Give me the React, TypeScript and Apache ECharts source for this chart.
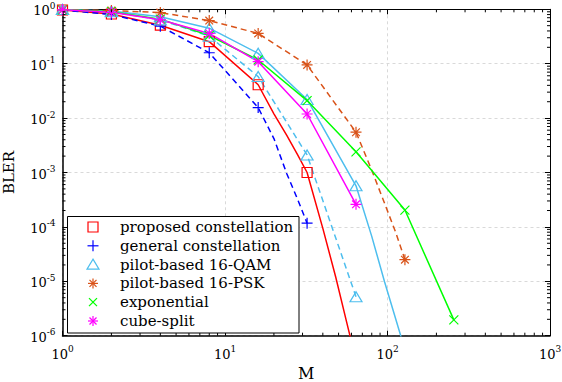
import React, { useEffect, useRef } from 'react';
import * as echarts from 'echarts';

const FONT = 'DejaVu Serif';

// ---- data (M, BLER) ----
const proposedM = [1, 2, 4, 8, 16, 20, 24, 28, 32, 40, 48, 56, 64];
const proposedBLER = [0.97, 0.82, 0.51, 0.254, 0.041, 0.012, 0.0048, 0.0021, 0.001, 9.4e-5, 1.2e-5, 1.8e-6, 3.5e-7];

const generalM = [1, 2, 4, 8, 16, 20, 24, 28, 32];
const generalBLER = [0.97, 0.8, 0.49, 0.159, 0.0156, 4.2e-3, 9.5e-4, 3.2e-4, 1.17e-4];

const qamM = [1, 2, 4, 8, 16, 32, 64, 80, 96, 112, 128];
const qamBLER = [0.99, 0.93, 0.73, 0.45, 0.155, 0.022, 5.7e-4, 6.7e-5, 9.7e-6, 2.1e-6, 5.5e-7];

const qamDashM = [1, 2, 4, 8, 16, 32, 64];
const qamDashBLER = [0.99, 0.9, 0.64, 0.32, 0.058, 2.1e-3, 5.2e-6];

const pskM = [1, 2, 4, 8, 16, 32, 64, 80, 96, 112, 128];
const pskBLER = [0.98, 0.95, 0.87, 0.62, 0.36, 0.095, 5.5e-3, 1.1e-3, 2.7e-4, 8.1e-5, 2.5e-5];

const expM = [1, 2, 4, 8, 16, 32, 64, 128, 256];
const expBLER = [0.98, 0.9, 0.66, 0.33, 0.117, 0.021, 2.4e-3, 2.04e-4, 1.95e-6];

const cubeM = [1, 2, 4, 8, 16, 32, 64];
const cubeBLER = [0.98, 0.88, 0.64, 0.36, 0.109, 0.0119, 2.6e-4];

const legendNames = [
  'proposed constellation',
  'general constellation',
  'pilot-based 16-QAM',
  'pilot-based 16-PSK',
  'exponential',
  'cube-split',
];

const X_MIN = 1, X_MAX = 1000, Y_MIN = 1e-6, Y_MAX = 1;

// minor tick positions (2..9 times each decade)
const xMinor: number[] = [];
for (let e = 0; e < 3; e++) for (let k = 2; k <= 9; k++) xMinor.push(k * Math.pow(10, e));
const yMinor: number[] = [];
for (let e = -6; e < 0; e++) for (let k = 2; k <= 9; k++) yMinor.push(k * Math.pow(10, e));

const C = {
  red: '#ff0000',
  blue: '#0000ff',
  lblue: '#4DBEEE',
  orange: '#D95319',
  green: '#00ff00',
  magenta: '#ff00ff',
};

const SYM = {
  square: 'path://M0,0 L10,0 L10,10 L0,10 Z',
  plus: 'path://M5,0 L5,10 M0,5 L10,5',
  triangle: 'path://M5,0 L10,9 L0,9 Z',
  star: 'path://M5,0 L5,10 M0,5 L10,5 M1.5,1.5 L8.5,8.5 M1.5,8.5 L8.5,1.5',
  cross: 'path://M0,0 L10,10 M0,10 L10,0',
};

const isPow2 = (m: number) => Number.isInteger(m) && (m & (m - 1)) === 0;

function mkSeries(name: string, M: number[], B: number[], color: string, dashed: boolean, symbol: string, size: number | number[]) {
  return {
    type: 'line',
    name,
    data: M.map((m, i) => (isPow2(m) ? { value: [m, B[i]] } : { value: [m, B[i]], symbol: 'none' })),
    symbol,
    symbolSize: size,
    showSymbol: true,
    showAllSymbol: true,
    lineStyle: { color, width: 1.5, type: dashed ? [6, 4] : 'solid' },
    itemStyle: { color: 'transparent', borderColor: color, borderWidth: 1.2 },
    emphasis: { disabled: true },
    z: 3,
  };
}

const rich = {
  b: { fontFamily: FONT, fontSize: 13, lineHeight: 16, verticalAlign: 'bottom', color: '#000' },
  s: { fontFamily: FONT, fontSize: 9, lineHeight: 12, verticalAlign: 'top', color: '#000' },
};
const expFormatter = (v: number) => {
  const e = Math.round(Math.log10(v));
  return `{b|10}{s|${e}}`;
};

function ln(x1: number, y1: number, x2: number, y2: number, stroke: string, w = 1) {
  return { type: 'line', z: 101, shape: { x1, y1, x2, y2 }, style: { stroke, lineWidth: w } };
}

function legendMarker(kind: string, cx: number, cy: number, color: string) {
  const h = 5;
  switch (kind) {
    case 'square':
      return [{ type: 'rect', z: 101, shape: { x: cx - h, y: cy - h, width: 2 * h, height: 2 * h }, style: { fill: 'none', stroke: color, lineWidth: 1.2 } }];
    case 'plus':
      return [ln(cx, cy - 5.5, cx, cy + 5.5, color, 1.2), ln(cx - 5.5, cy, cx + 5.5, cy, color, 1.2)];
    case 'triangle':
      return [{ type: 'polygon', z: 101, shape: { points: [[cx, cy - 5.5], [cx + 6, cy + 4.5], [cx - 6, cy + 4.5]] }, style: { fill: 'none', stroke: color, lineWidth: 1.2 } }];
    case 'star':
      return [
        ln(cx, cy - 5, cx, cy + 5, color, 1.2),
        ln(cx - 5, cy, cx + 5, cy, color, 1.2),
        ln(cx - 3.5, cy - 3.5, cx + 3.5, cy + 3.5, color, 1.2),
        ln(cx - 3.5, cy + 3.5, cx + 3.5, cy - 3.5, color, 1.2),
      ];
    case 'cross':
    default:
      return [ln(cx - 4, cy - 4, cx + 4, cy + 4, color, 1.2), ln(cx - 4, cy + 4, cx + 4, cy - 4, color, 1.2)];
  }
}

export default function App() {
  const ref = useRef<HTMLDivElement>(null);

  useEffect(() => {
    if (!ref.current) return;
    const chart = echarts.init(ref.current, undefined, { renderer: 'svg' });

    const legendKinds = ['square', 'plus', 'triangle', 'star', 'cross', 'star'];
    const legendColors = [C.red, C.blue, C.lblue, C.orange, C.green, C.magenta];
    const rowY = [227, 245.8, 264.6, 283.4, 302.2, 321];
    const legendChildren: any[] = [
      { type: 'rect', z: 100, shape: { x: 67.5, y: 216.5, width: 231.5, height: 116.5 }, style: { fill: '#fff', stroke: '#000', lineWidth: 1 } },
    ];
    legendNames.forEach((name, i) => {
      legendChildren.push(...legendMarker(legendKinds[i], 93, rowY[i], legendColors[i]));
      legendChildren.push({
        type: 'text',
        z: 101,
        x: 120,
        y: rowY[i],
        style: { text: name, fill: '#000', fontFamily: FONT, fontSize: 15, verticalAlign: 'middle', align: 'left' },
      });
    });

    const axisCommon = {
      type: 'log',
      logBase: 10,
      axisLine: { show: true, onZero: false, lineStyle: { color: '#000', width: 1.5 } },
      axisTick: { show: true, inside: true, length: 5, lineStyle: { color: '#000', width: 1 } },
      minorTick: { show: false },
      minorSplitLine: { show: false },
    };

    const option: any = {
      animation: false,
      backgroundColor: '#fff',
      textStyle: { fontFamily: FONT },
      grid: { left: 62.5, right: 12, top: 9.3, bottom: 46.3, containLabel: false, outerBoundsMode: 'none' },
      xAxis: [
        {
          ...axisCommon,
          min: X_MIN,
          max: X_MAX,
          position: 'bottom',
          name: 'M',
          nameLocation: 'middle',
          nameGap: 25,
          nameTextStyle: { fontFamily: FONT, fontSize: 16, color: '#000' },
          axisLabel: { margin: 9, fontFamily: FONT, formatter: expFormatter, rich },
          splitLine: { show: true, lineStyle: { color: '#d9d9d9', width: 1, type: [3, 3] } },
        },
        {
          ...axisCommon,
          min: X_MIN,
          max: X_MAX,
          position: 'top',
          axisLine: { show: true, onZero: false, lineStyle: { color: '#000', width: 1 } },
          axisLabel: { show: false },
          splitLine: { show: false },
        },
      ],
      yAxis: [
        {
          ...axisCommon,
          min: Y_MIN,
          max: Y_MAX,
          position: 'left',
          name: 'BLER',
          nameLocation: 'middle',
          nameGap: 46,
          nameTextStyle: { fontFamily: FONT, fontSize: 15, color: '#000' },
          axisLabel: { margin: 7, fontFamily: FONT, formatter: expFormatter, rich },
          splitLine: { show: true, lineStyle: { color: '#d9d9d9', width: 1, type: [3, 3] } },
        },
        {
          ...axisCommon,
          min: Y_MIN,
          max: Y_MAX,
          position: 'right',
          axisLine: { show: true, onZero: false, lineStyle: { color: '#000', width: 1 } },
          axisLabel: { show: false },
          splitLine: { show: false },
        },
      ],
      series: [
        mkSeries(legendNames[0], proposedM, proposedBLER, C.red, false, SYM.square, 10),
        mkSeries(legendNames[1], generalM, generalBLER, C.blue, true, SYM.plus, 11),
        mkSeries(legendNames[2], qamM, qamBLER, C.lblue, false, SYM.triangle, [12, 10]),
        mkSeries(legendNames[2] + ' ', qamDashM, qamDashBLER, C.lblue, true, SYM.triangle, [12, 10]),
        mkSeries(legendNames[3], pskM, pskBLER, C.orange, true, SYM.star, 11),
        mkSeries(legendNames[4], expM, expBLER, C.green, false, SYM.cross, 9),
        mkSeries(legendNames[5], cubeM, cubeBLER, C.magenta, false, SYM.star, 11),
        {
          type: 'custom',
          silent: true,
          z: 10,
          clip: false,
          xAxisIndex: 0,
          yAxisIndex: 0,
          dimensions: ['x', 'y', 'k'],
          encode: { x: 0, y: 1 },
          data: [...xMinor.map((v) => [v, 1, 0]), ...yMinor.map((v) => [1, v, 1])],
          renderItem: (params: any, api: any) => {
            const k = api.value(2);
            const st = { stroke: '#000', lineWidth: 1 };
            if (k === 0) {
              const x = api.value(0);
              const b = api.coord([x, Y_MIN]);
              const t = api.coord([x, Y_MAX]);
              return {
                type: 'group',
                children: [
                  { type: 'line', shape: { x1: b[0], y1: b[1], x2: b[0], y2: b[1] - 3 }, style: st },
                  { type: 'line', shape: { x1: t[0], y1: t[1], x2: t[0], y2: t[1] + 3 }, style: st },
                ],
              };
            }
            const y = api.value(1);
            const l = api.coord([X_MIN, y]);
            const r = api.coord([X_MAX, y]);
            return {
              type: 'group',
              children: [
                { type: 'line', shape: { x1: l[0], y1: l[1], x2: l[0] + 3, y2: l[1] }, style: st },
                { type: 'line', shape: { x1: r[0], y1: r[1], x2: r[0] - 3, y2: r[1] }, style: st },
              ],
            };
          },
        },
      ],
      graphic: [{ type: 'group', z: 100, children: legendChildren }],
    };

    chart.setOption(option);
    return () => chart.dispose();
  }, []);

  return <div ref={ref} style={{ position: 'absolute', left: 0, top: 0, width: 562, height: 382 }} />;
}
